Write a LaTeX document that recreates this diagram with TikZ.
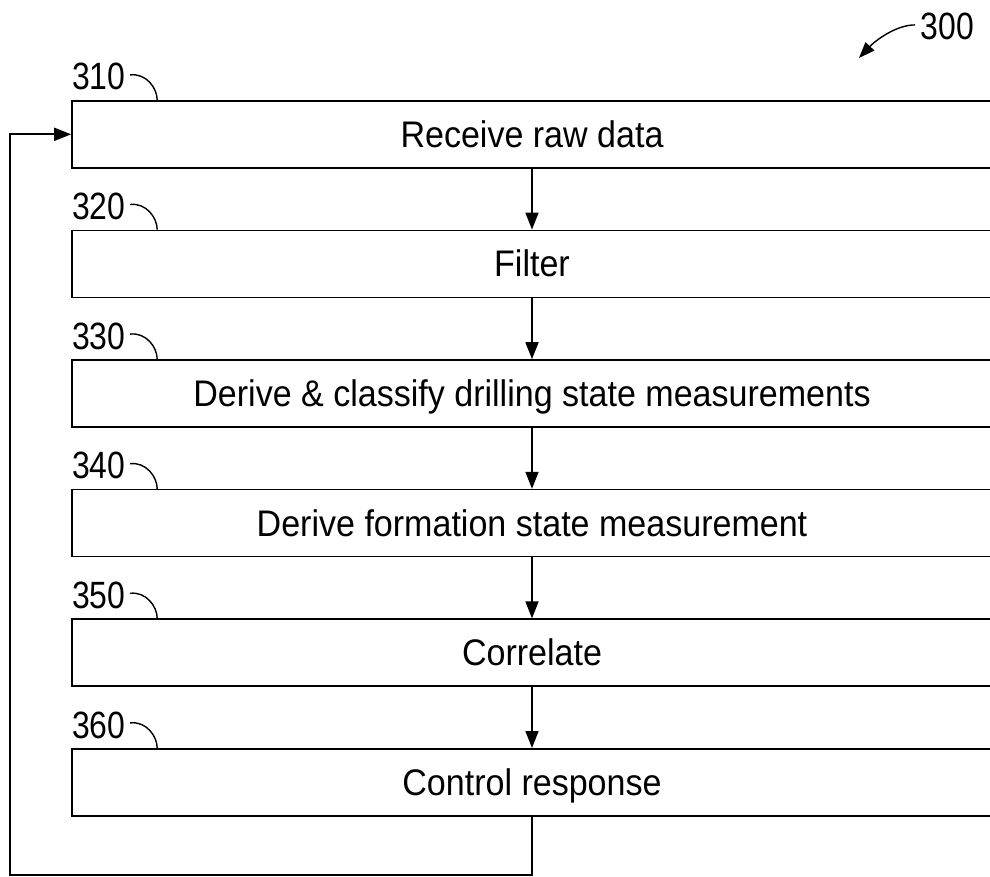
\documentclass[tikz,border=0pt]{standalone}
\usepackage{fontspec}
\setmainfont{Liberation Sans}[FakeStretch=0.92]
\newfontfamily\lblfont{Liberation Sans}[FakeStretch=0.84]
\usetikzlibrary{arrows.meta,calc}
\begin{document}
\begin{tikzpicture}[x=1pt,y=-1pt,line width=1.6pt,
  stepbox/.style={draw, rectangle, minimum width=920pt, minimum height=67pt, inner sep=0pt,
    text height=27pt, text depth=1pt, font=\fontsize{37}{40}\selectfont, anchor=north},
  lbl/.style={font=\lblfont\fontsize{38}{40}\selectfont, inner sep=0pt, anchor=base west},
  arr/.style={-{Triangle[length=17pt,width=13pt]}},
  leader/.style={line width=1.4pt}]
\useasboundingbox (0,0) rectangle (990,877);
\clip (0,0) rectangle (990,877);
\foreach \n/\y/\t in {310/100/Receive raw data,320/229.6/Filter,330/359.2/Derive \& classify drilling state measurements,340/488.8/Derive formation state measurement,350/618.4/Correlate,360/748/Control response}{
  \node[stepbox] (b\n) at (532,\y) {\t};
  \node[lbl] (l\n) at ($(b\n.north west)+(0,-10)$) {\n};
  \draw[leader] ($(l\n.east)+(4,-2)$) .. controls +(16,-2) and +(0,-12) .. ($(b\n.north west)+(86,0)$);
}
\draw[arr] (b310.south) -- (b320.north);
\draw[arr] (b320.south) -- (b330.north);
\draw[arr] (b330.south) -- (b340.north);
\draw[arr] (b340.south) -- (b350.north);
\draw[arr] (b350.south) -- (b360.north);
\coordinate (fbl) at (10,875);
\draw[arr] (b360.south) |- (fbl) |- (b310.west);
\node[lbl] (l300) at (920,40) {300};
\coordinate (p300) at (859,58);
\draw[leader,-{Triangle[length=16pt,width=12pt]}] ($(l300.west)+(-5,-2)$) .. controls +(-20,0) and +(15,-16) .. (p300);
\end{tikzpicture}
\end{document}
